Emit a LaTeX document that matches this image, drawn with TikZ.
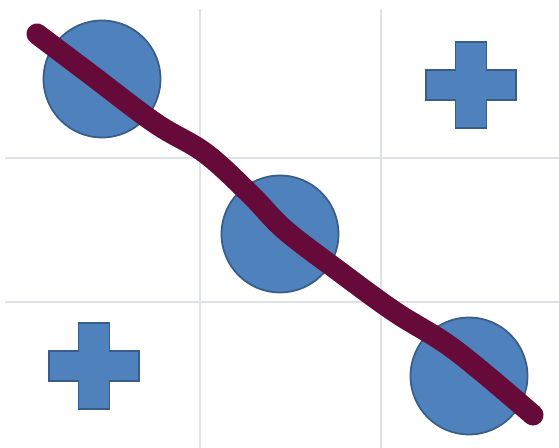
\documentclass[tikz,border=0pt]{standalone}
\usepackage{tikz}

\definecolor{gridgray}{RGB}{222,225,230}
\definecolor{shapeblue}{RGB}{79,129,189}
\definecolor{shapeedge}{RGB}{56,93,138}
\definecolor{strokeplum}{RGB}{102,10,58}

\tikzset{
  gridline/.style={draw=gridgray, line width=0.7pt},
  ring/.style={circle, draw=shapeedge, fill=shapeblue, line width=1pt, minimum size=2.34cm, inner sep=0pt},
  cross/.style={draw=shapeedge, fill=shapeblue, line width=1pt},
  winline/.style={draw=strokeplum, line width=12pt, line cap=round, line join=round}
}

% plus sign centred at (#1,#2), in picture pixels
\newcommand{\plussign}[2]{%
  \draw[cross] (#1-15.5,#2-43) -- (#1+15.5,#2-43) -- (#1+15.5,#2-15) -- (#1+45,#2-15)
    -- (#1+45,#2+15) -- (#1+15.5,#2+15) -- (#1+15.5,#2+43) -- (#1-15.5,#2+43)
    -- (#1-15.5,#2+15) -- (#1-45,#2+15) -- (#1-45,#2-15) -- (#1-15.5,#2-15) -- cycle;}

\begin{document}
\begin{tikzpicture}[x=0.02cm, y=-0.02cm]
  \useasboundingbox (0,0) rectangle (559,448);
  \fill[white] (0,0) rectangle (559,448);

  % grid
  \draw[gridline] (200,9) -- (200,448);
  \draw[gridline] (381,9) -- (381,448);
  \draw[gridline] (5,158) -- (559,158);
  \draw[gridline] (5,302) -- (559,302);

  % noughts
  \node[ring] (o1) at (102,79) {};
  \node[ring] (o2) at (280,234) {};
  \node[ring] (o3) at (469,376) {};

  % crosses
  \plussign{471}{85}
  \plussign{94}{366}

  % the winning line
  \draw[winline] plot[smooth, tension=0.6] coordinates {
    (37,34) (90,74) (155,123) (205,153) (250,194) (285,230)
    (340,272) (395,312) (455,350) (533,415)};
\end{tikzpicture}
\end{document}
